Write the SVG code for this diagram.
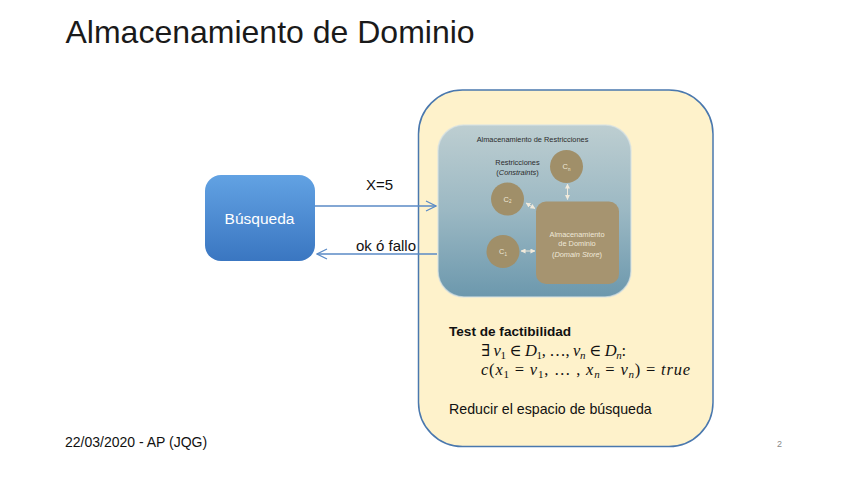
<svg xmlns="http://www.w3.org/2000/svg" width="848" height="477" viewBox="0 0 848 477">
<style>
.sans{font-family:"Liberation Sans",Arial,sans-serif}
.math{font-family:"Liberation Serif","DejaVu Serif",serif;font-size:16.5px;fill:#111}
.it{font-style:italic}
.sub{font-size:11px}
.small{font-family:"Liberation Sans",Arial,sans-serif;font-size:7.4px;fill:#2b2b2b;text-anchor:middle}
.light{font-family:"Liberation Sans",Arial,sans-serif;font-size:7.4px;fill:#EFE8D8;text-anchor:middle}
.conn{stroke:#5A8AC6;stroke-width:1.3;fill:none}
.inner{stroke:#F1EADB;stroke-width:1;fill:none}
.circ{fill:#A08F69}
</style>
<defs>
<linearGradient id="gBlue" x1="0" y1="0" x2="0" y2="1">
<stop offset="0" stop-color="#62A2E3"/>
<stop offset="1" stop-color="#3A76C1"/>
</linearGradient>
<linearGradient id="gInner" x1="0" y1="0" x2="0" y2="1">
<stop offset="0" stop-color="#BDCED1"/>
<stop offset="0.5" stop-color="#9BB8C3"/>
<stop offset="1" stop-color="#6C98AD"/>
</linearGradient>
<marker id="open" viewBox="0 0 12 12" refX="11" refY="6" markerWidth="12" markerHeight="12" markerUnits="userSpaceOnUse" orient="auto">
<path d="M1,1 L11,6 L1,11" fill="none" stroke="#5A8AC6" stroke-width="1.2"/>
</marker>
<marker id="sm" viewBox="0 0 6 6" refX="5.5" refY="3" markerWidth="5" markerHeight="5" markerUnits="userSpaceOnUse" orient="auto-start-reverse">
<path d="M0,0 L6,3 L0,6 z" fill="#F1EADB"/>
</marker>
</defs>
<rect width="848" height="477" fill="#FFFFFF"/>
<text class="sans" x="65.5" y="42.5" font-size="32" fill="#1a1a1a">Almacenamiento de Dominio</text>

<g id="store">
<rect x="418.5" y="90" width="294.5" height="356.5" rx="44" ry="44" fill="#FEF2CB" stroke="#4A78AE" stroke-width="1.5"/>
<text class="sans" x="449" y="335.5" font-size="13.6" font-weight="bold" fill="#111">Test de factibilidad</text>
<text class="math" x="481" y="356" textLength="145" lengthAdjust="spacing">∃ <tspan class="it">v</tspan><tspan class="sub" dy="3">1</tspan><tspan dy="-3"> ∈ </tspan><tspan class="it">D</tspan><tspan class="sub" dy="3">1</tspan><tspan dy="-3">, …, </tspan><tspan class="it">v</tspan><tspan class="sub it" dy="3">n</tspan><tspan dy="-3"> ∈ </tspan><tspan class="it">D</tspan><tspan class="sub it" dy="3">n</tspan><tspan dy="-3">:</tspan></text>
<text class="math" x="481" y="375" textLength="209" lengthAdjust="spacing"><tspan class="it">c</tspan>(<tspan class="it">x</tspan><tspan class="sub" dy="3">1</tspan><tspan dy="-3"> = </tspan><tspan class="it">v</tspan><tspan class="sub" dy="3">1</tspan><tspan dy="-3">, … , </tspan><tspan class="it">x</tspan><tspan class="sub it" dy="3">n</tspan><tspan dy="-3"> = </tspan><tspan class="it">v</tspan><tspan class="sub it" dy="3">n</tspan><tspan dy="-3">) =  </tspan><tspan class="it">true</tspan></text>
<text class="sans" x="449" y="413.5" font-size="14.2" fill="#111">Reducir el espacio de búsqueda</text>
</g>

<g id="constraint-store">
<rect x="438" y="125" width="193" height="172" rx="26" ry="26" fill="url(#gInner)" stroke="#D5E1E4" stroke-width="1.5" stroke-opacity="0.7"/>
<text class="small" x="532.5" y="141.5">Almacenamiento de Restricciones</text>
<text class="small" x="517.5" y="165">Restricciones</text>
<text class="small" x="517.5" y="174.5">(<tspan class="it">Constraints</tspan>)</text>
</g>

<g id="cn">
<circle class="circ" cx="566.5" cy="166.5" r="16.5"/>
<text class="light" x="566.5" y="169" font-size="6.5">C<tspan font-size="4.5" dy="1.5">n</tspan></text>
</g>
<g id="c2">
<circle class="circ" cx="507.5" cy="199" r="16.5"/>
<text class="light" x="507.5" y="201.5" font-size="6.5">C<tspan font-size="4.5" dy="1.5">2</tspan></text>
</g>
<g id="c1">
<circle class="circ" cx="503" cy="251.5" r="16.5"/>
<text class="light" x="503" y="254" font-size="6.5">C<tspan font-size="4.5" dy="1.5">1</tspan></text>
</g>
<g id="domain-store">
<rect x="536" y="201.5" width="83" height="82.5" rx="10" ry="10" fill="#A69470"/>
<text class="light" x="577" y="236.5">Almacenamiento</text>
<text class="light" x="577" y="246">de Dominio</text>
<text class="light" x="577" y="257">(<tspan class="it">Domain Store</tspan>)</text>
</g>

<g id="busqueda">
<rect x="205" y="175" width="110" height="86" rx="16" ry="16" fill="url(#gBlue)"/>
<text class="sans" x="259.5" y="223.5" font-size="15.5" fill="#FFFFFF" text-anchor="middle">Búsqueda</text>
</g>

<g id="connectors">
<line class="conn" x1="315" y1="206" x2="436" y2="206" marker-end="url(#open)"/>
<line class="conn" x1="437" y1="254" x2="317" y2="254" marker-end="url(#open)"/>
<text class="sans" x="379.5" y="190" font-size="15" fill="#111" text-anchor="middle">X=5</text>
<text class="sans" x="386" y="251" font-size="15" fill="#111" text-anchor="middle">ok ó fallo</text>
<line class="inner" x1="567.5" y1="184" x2="567.5" y2="199.5" marker-start="url(#sm)" marker-end="url(#sm)"/>
<line class="inner" x1="526" y1="203" x2="535" y2="208.5" marker-start="url(#sm)" marker-end="url(#sm)"/>
<line class="inner" x1="521" y1="251" x2="535" y2="251" marker-start="url(#sm)" marker-end="url(#sm)"/>
</g>

<text class="sans" x="65" y="446.5" font-size="14" fill="#111">22/03/2020 - AP (JQG)</text>
<text class="sans" x="779.5" y="447" font-size="9" fill="#8a8a8a" text-anchor="middle">2</text>
</svg>
